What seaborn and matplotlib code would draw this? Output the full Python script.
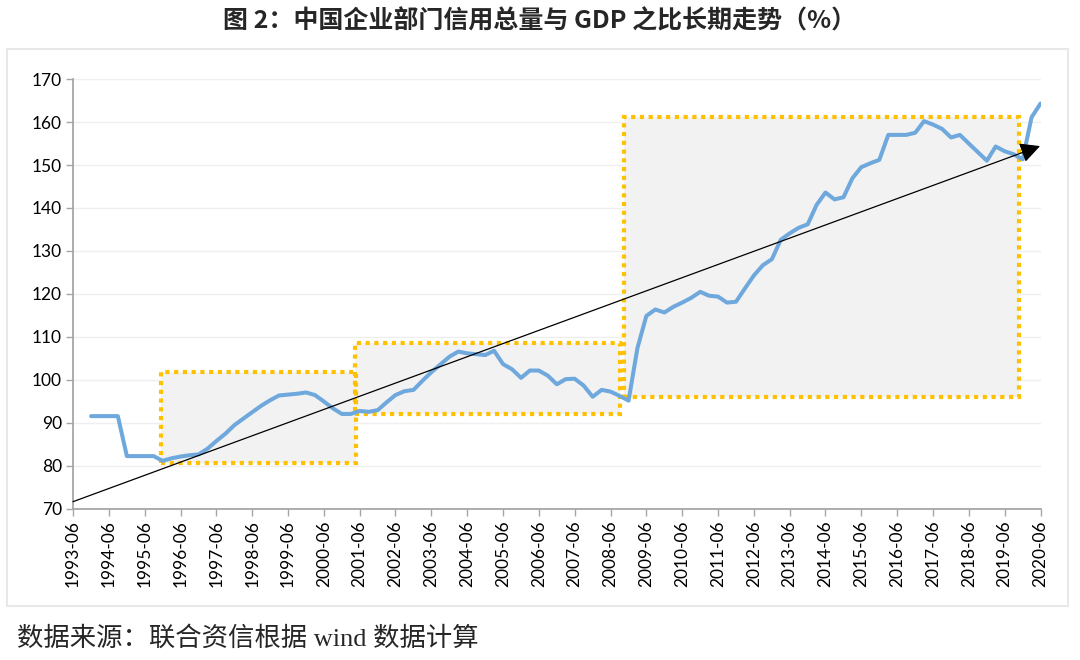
import pandas as pd
import matplotlib
matplotlib.use("Agg")
import matplotlib.pyplot as plt
import matplotlib.dates as mdates
from matplotlib.patches import Rectangle
import seaborn as sns

# Quarterly corporate credit / GDP ratio (%), 1993-12 .. 2020-06
ratio = [
    91.6,
    91.6, 91.6, 91.6, 82.3,      # 1994
    82.3, 82.3, 82.3, 81.2,      # 1995
    81.8, 82.2, 82.5, 82.7,      # 1996
    84.0, 85.8, 87.5, 89.5,      # 1997
    91.0, 92.5, 94.0, 95.3,      # 1998
    96.4, 96.6, 96.8, 97.1,      # 1999
    96.5, 95.0, 93.4, 92.1,      # 2000
    92.1, 92.8, 92.6, 93.0,      # 2001
    94.8, 96.5, 97.4, 97.7,      # 2002
    99.8, 101.8, 103.6, 105.4,   # 2003
    106.6, 106.2, 106.0, 105.8,  # 2004
    106.8, 103.7, 102.5, 100.5,  # 2005
    102.2, 102.2, 101.0, 99.0,   # 2006
    100.2, 100.3, 98.7, 96.1,    # 2007
    97.7, 97.3, 96.3, 95.2,      # 2008
    107.4, 114.9, 116.4, 115.7,  # 2009
    117.0, 118.0, 119.1, 120.5,  # 2010
    119.6, 119.4, 118.0, 118.2,  # 2011
    121.3, 124.3, 126.7, 128.1,  # 2012
    132.6, 134.1, 135.4, 136.2,  # 2013
    140.7, 143.6, 142.0, 142.5,  # 2014
    146.9, 149.5, 150.4, 151.2,  # 2015
    157.0, 157.0, 157.0, 157.5,  # 2016
    160.2, 159.4, 158.4, 156.4,  # 2017
    157.0, 155.0, 153.0, 151.0,  # 2018
    154.3, 153.2, 152.5, 151.3,  # 2019
    161.1, 164.3,                # 2020
]
dates = pd.date_range("1993-12-31", periods=len(ratio), freq="QE")

tick_years = list(range(1993, 2021))
tick_labels = [f"{y}-06" for y in tick_years]

# highlighted phases: (start, end, low, high)
phases = [
    ("1995-12-10", "2001-05-20", 80.6, 101.8),
    ("2001-05-15", "2008-10-05", 92.0, 108.5),
    ("2008-11-15", "2019-11-20", 96.1, 161.1),
]
# trend arrow: start / end
trend = [("1993-06-30", 71.7), ("2020-06-25", 154.4)]

df = pd.DataFrame({"date": dates, "ratio": ratio})

sns.set_theme(style="white")
plt.rcParams["font.family"] = ["Lato", "Noto Sans CJK SC", "DejaVu Sans"]

fig = plt.figure(figsize=(10.8, 6.6), dpi=100)
ax = fig.add_axes([0.0676, 0.2288, 0.8963, 0.6515])

# phase boxes
for start, end, lo, hi in phases:
    x0 = mdates.date2num(pd.Timestamp(start))
    x1 = mdates.date2num(pd.Timestamp(end))
    ax.add_patch(Rectangle((x0, lo), x1 - x0, hi - lo, facecolor="#F2F2F2",
                           edgecolor="none", zorder=1))
for start, end, lo, hi in phases:
    x0 = mdates.date2num(pd.Timestamp(start))
    x1 = mdates.date2num(pd.Timestamp(end))
    ax.add_patch(Rectangle((x0, lo), x1 - x0, hi - lo, facecolor="none",
                           edgecolor="#FFC000", linewidth=3,
                           linestyle=(0, (1, 1.1)), zorder=2))

sns.lineplot(data=df, x="date", y="ratio", ax=ax, color="#6FA8DC",
             linewidth=2.9, zorder=4)

# trend arrow
(s_d, s_v), (e_d, e_v) = trend
ax.annotate("", xy=(pd.Timestamp(e_d), e_v), xytext=(pd.Timestamp(s_d), s_v),
            arrowprops=dict(arrowstyle="-|>,head_length=0.55,head_width=0.28",
                            color="black", lw=0.9, mutation_scale=22,
                            shrinkA=0, shrinkB=0),
            zorder=5)

ax.set_xlim(pd.Timestamp("1993-06-30"), pd.Timestamp("2020-07-05"))
ax.set_ylim(70, 170)
ax.set_yticks(range(70, 171, 10))
ax.set_xticks([pd.Timestamp(f"{y}-06-30") for y in tick_years])
ax.set_xticklabels(tick_labels, rotation=90)
ax.set(xlabel="", ylabel="")

ax.yaxis.grid(True, color="#EFEFEF", linewidth=1)
ax.set_axisbelow(True)
for side in ["top", "right"]:
    ax.spines[side].set_visible(False)
for side in ["left", "bottom"]:
    ax.spines[side].set_color("#A6A6A6")
    ax.spines[side].set_linewidth(1.3)
ax.tick_params(axis="both", which="major", length=5, width=1,
               color="#A6A6A6", labelsize=12.5, labelcolor="black",
               bottom=True, left=True, pad=3)

# outer frame
fig.patches.append(Rectangle((0.0065, 0.0818), 0.982, 0.844, transform=fig.transFigure,
                             fill=False, edgecolor="#E8E8E8", linewidth=1.5))

fig.text(0.5, 0.968, "图 2：中国企业部门信用总量与 GDP 之比长期走势（%）",
         ha="center", va="center", fontsize=18, fontweight="bold",
         family=["Noto Sans CJK SC", "DejaVu Sans"])
fig.text(0.016, 0.033, "数据来源：联合资信根据 wind 数据计算",
         ha="left", va="center", fontsize=19,
         family=["Liberation Serif", "Noto Sans CJK SC"])

fig.savefig("out.png", dpi=100)
